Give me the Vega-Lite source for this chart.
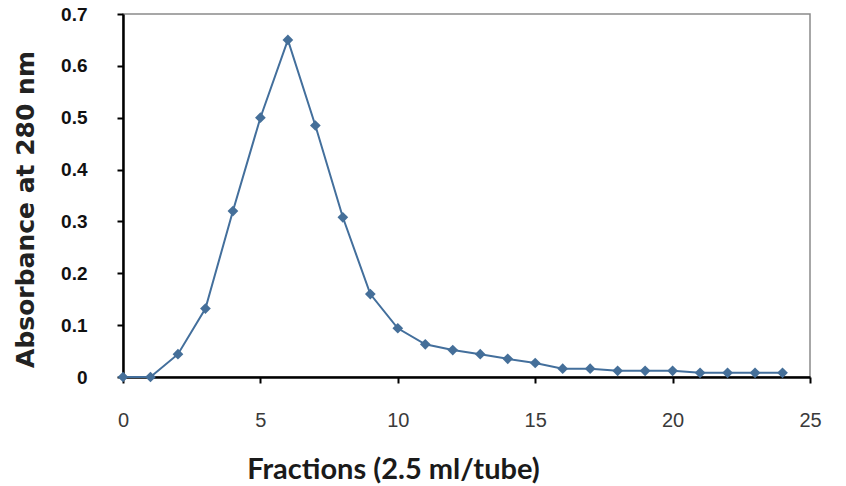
{
  "$schema": "https://vega.github.io/schema/vega-lite/v6.json",
  "width": 687,
  "height": 363,
  "autosize": {"type": "none"},
  "padding": {"left": 123, "top": 14, "right": 36, "bottom": 109},
  "background": "white",
  "config": {
    "view": {"stroke": "#8a8a8a", "strokeWidth": 1.5},
    "axis": {"grid": false}
  },
  "data": {
    "values": [
      {"fraction": 0, "absorbance": 0.0},
      {"fraction": 1, "absorbance": 0.0},
      {"fraction": 2, "absorbance": 0.044},
      {"fraction": 3, "absorbance": 0.132},
      {"fraction": 4, "absorbance": 0.32},
      {"fraction": 5, "absorbance": 0.50},
      {"fraction": 6, "absorbance": 0.65},
      {"fraction": 7, "absorbance": 0.485},
      {"fraction": 8, "absorbance": 0.308},
      {"fraction": 9, "absorbance": 0.16},
      {"fraction": 10, "absorbance": 0.094},
      {"fraction": 11, "absorbance": 0.063},
      {"fraction": 12, "absorbance": 0.052},
      {"fraction": 13, "absorbance": 0.044},
      {"fraction": 14, "absorbance": 0.035},
      {"fraction": 15, "absorbance": 0.027},
      {"fraction": 16, "absorbance": 0.016},
      {"fraction": 17, "absorbance": 0.016},
      {"fraction": 18, "absorbance": 0.012},
      {"fraction": 19, "absorbance": 0.012},
      {"fraction": 20, "absorbance": 0.012},
      {"fraction": 21, "absorbance": 0.008},
      {"fraction": 22, "absorbance": 0.008},
      {"fraction": 23, "absorbance": 0.008},
      {"fraction": 24, "absorbance": 0.008}
    ]
  },
  "mark": {
    "type": "line",
    "color": "#436f9c",
    "strokeWidth": 2,
    "clip": false,
    "point": {"shape": "diamond", "size": 115, "filled": true, "color": "#456f99"}
  },
  "encoding": {
    "x": {
      "field": "fraction",
      "type": "quantitative",
      "scale": {"domain": [0, 25], "nice": false, "zero": false},
      "axis": {
        "values": [0, 5, 10, 15, 20, 25],
        "title": "Fractions (2.5 ml/tube)",
        "titleFont": "Lato",
        "titleFontSize": 29,
        "titleFontWeight": "bold",
        "titleColor": "#1a1a1a",
        "titleX": 270,
        "titleY": 101,
        "titleAlign": "center",
        "titleBaseline": "alphabetic",
        "labelFont": "Liberation Sans",
        "labelFontSize": 20,
        "labelColor": "#3a3a3a",
        "labelPadding": 27,
        "labelFlush": false,
        "domainColor": "#000",
        "domainWidth": 2.5,
        "tickColor": "#000",
        "tickWidth": 2,
        "tickSize": 6
      }
    },
    "y": {
      "field": "absorbance",
      "type": "quantitative",
      "scale": {"domain": [0, 0.7], "nice": false},
      "axis": {
        "values": [0, 0.1, 0.2, 0.3, 0.4, 0.5, 0.6, 0.7],
        "format": "~g",
        "title": "Absorbance at 280 nm",
        "titleFont": "DejaVu Sans",
        "titleFontSize": 25,
        "titleFontWeight": "bold",
        "titleColor": "#222",
        "titleX": -90,
        "titleY": 195,
        "titleAlign": "center",
        "titleBaseline": "alphabetic",
        "titleAngle": -90,
        "labelFont": "Liberation Sans",
        "labelFontSize": 19,
        "labelFontWeight": "bold",
        "labelColor": "#111",
        "labelPadding": 30,
        "labelFlush": false,
        "domainColor": "#000",
        "domainWidth": 2.5,
        "tickColor": "#000",
        "tickWidth": 2,
        "tickSize": 6
      }
    }
  }
}
